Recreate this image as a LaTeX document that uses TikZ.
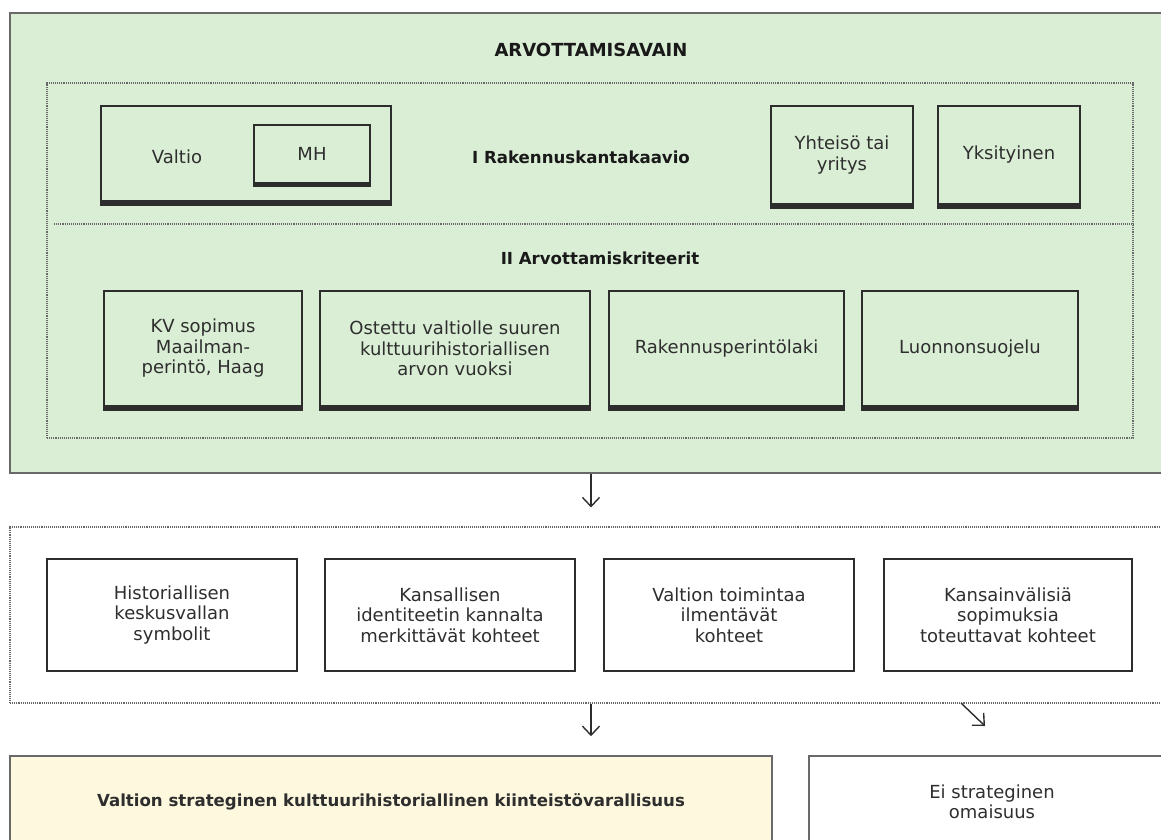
\documentclass[tikz,border=0pt]{standalone}
\usepackage{fontspec}
\setmainfont{DejaVu Sans}
\usetikzlibrary{arrows.meta}
\definecolor{avaingreen}{RGB}{218,238,213}
\definecolor{strategyellow}{RGB}{253,248,222}
\definecolor{darkline}{RGB}{45,45,45}
\definecolor{greyline}{RGB}{105,105,105}
\tikzset{>={Straight Barb[length=9pt,width=17pt]},
  every node/.style={font=\fontsize{18}{20.5}\selectfont, text=black!82, align=center, inner sep=0pt},
  head/.style={font=\fontsize{16.6}{20}\selectfont\bfseries, text=black!90},
  kbox/.style={draw=darkline, line width=1.5pt},
  footbox/.style={kbox, append after command={([yshift=-1.8pt]\tikzlastnode.south west) edge[line width=#1, darkline] ([yshift=-1.8pt]\tikzlastnode.south east)}},
  footbox/.default=4pt,
  frame/.style={draw=greyline, densely dotted, line width=1.1pt},
  arr/.style={->, line width=1.4pt, darkline}}

\begin{document}
\begin{tikzpicture}[x=1pt, y=-1pt]
\useasboundingbox (0,0) rectangle (1161,839);
\clip (0,0) rectangle (1161,839);
% arvottamisavain
\node (avain) at (591,243) [draw=greyline, line width=2.5pt, fill=avaingreen, minimum width=1162, minimum height=460] {};
\node (title) at (591,50) [head, font=\fontsize{18}{20}\selectfont\bfseries] {ARVOTTAMISAVAIN};
\node (arvot) at (590,260.5) [frame, minimum width=1086, minimum height=355] {};
\coordinate (sepl) at (54,224);
\draw[frame] (sepl) -- (sepl -| arvot.east);
% I rakennuskantakaavio
\node (valtio) at (246,153.5) [footbox=5pt, minimum width=290, minimum height=95] {};
\node (valtiot) at (177,157) {Valtio};
\node (mh) at (312,154) [footbox=3.5pt, minimum width=116, minimum height=58] {MH};
\node (kaavio) at (581,157) [head] {I Rakennuskantakaavio};
\node (yhteiso) at (842,155) [footbox=5pt, minimum width=142, minimum height=98] {Yhteisö tai\\yritys};
\node (yksit) at (1009,155) [footbox=5pt, minimum width=142, minimum height=98] {Yksityinen};
% II arvottamiskriteerit
\node (kriteerit) at (600,258) [head] {II Arvottamiskriteerit};
\node (kv) at (203,348.5) [footbox, minimum width=198, minimum height=115] {KV sopimus\\Maailman-\\perintö, Haag};
\node (ostettu) at (455,348.5) [footbox, minimum width=270, minimum height=115] {Ostettu valtiolle suuren\\kulttuurihistoriallisen\\arvon vuoksi};
\node (rakper) at (726.5,348.5) [footbox, minimum width=235, minimum height=115] {Rakennusperintölaki};
\node (luonto) at (970,348.5) [footbox, minimum width=216, minimum height=115] {Luonnonsuojelu};
% kohteet
\node (kohteet) at (591,615) [frame, minimum width=1162, minimum height=176] {};
\node (hist) at (172,615) [kbox, minimum width=250, minimum height=112] {Historiallisen\\keskusvallan\\symbolit};
\node (kans) at (450,615) [kbox, minimum width=250, minimum height=112] {Kansallisen\\identiteetin kannalta\\merkittävät kohteet};
\node (toim) at (729,615) [kbox, minimum width=250, minimum height=112] {Valtion toimintaa\\ilmentävät\\kohteet};
\node (sopim) at (1008,615) [kbox, minimum width=248, minimum height=112] {Kansainvälisiä\\sopimuksia\\toteuttavat kohteet};
% tulos
\node (strateg) at (391,802) [draw=greyline, line width=1.6pt, fill=strategyellow, minimum width=762, minimum height=92] {\fontsize{16.6}{20}\selectfont\bfseries Valtion strateginen kulttuurihistoriallinen kiinteistövarallisuus};
\node (eistrat) at (992,802) [draw=greyline, line width=1.6pt, minimum width=366, minimum height=92] {Ei strateginen\\omaisuus};
% nuolet
\draw[arr, shorten >=19pt] (avain.south) -- (kohteet.north);
\draw[arr, shorten >=19pt] (kohteet.south) -- (kohteet.south |- strateg.north);
\coordinate (d1) at (961,703);
\coordinate (d2) at (985,726);
\draw[arr] (d1) -- (d2);
\end{tikzpicture}
\end{document}
